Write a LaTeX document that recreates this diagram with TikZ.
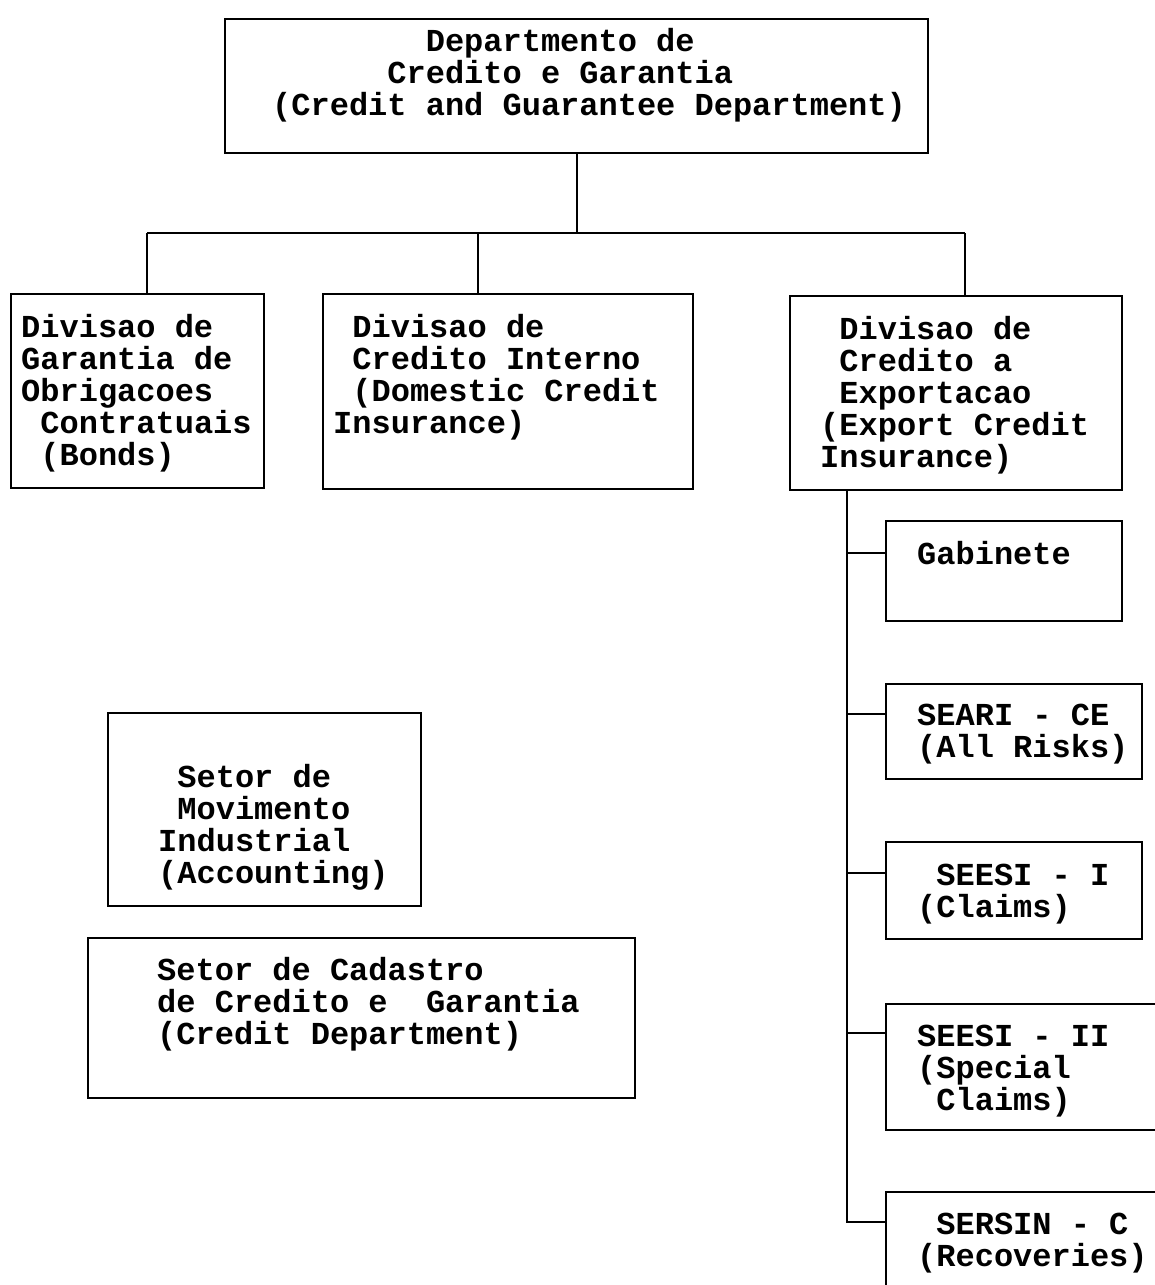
\documentclass[tikz,border=0pt]{standalone}
\usepackage{fontspec}
\setmainfont{Liberation Mono}
\usetikzlibrary{positioning}
\frenchspacing
% strut that fixes the top of the first text line
\newcommand{\boxstrut}{\rule{0pt}{26pt}}
\begin{document}
\begin{tikzpicture}[x=1pt, y=-1pt,
    orgbox/.style={draw, line width=2.2pt, inner sep=0pt, anchor=north west},
    orgtext/.style={align=left, inner sep=0pt, anchor=north west,
        font=\fontsize{32}{32}\selectfont\bfseries},
    link/.style={line width=2.2pt}]
\useasboundingbox (0,0) rectangle (1155,1285);

% Department box on top
\node[orgbox, minimum width=703pt, minimum height=134pt] (dep) at (224,18) {};
\node[orgtext, below right=7pt and 48pt of dep.north west] (dep-txt)
    {\boxstrut~~~~~~~~Departmento de\\~~~~~~Credito e Garantia\\(Credit and Guarantee Department)};

% The three divisions
\node[orgbox, minimum width=253pt, minimum height=194pt] (bonds) at (10,293) {};
\node[orgtext, below right=18pt and 11pt of bonds.north west] (bonds-txt)
    {\boxstrut Divisao de\\Garantia de\\Obrigacoes\\~Contratuais\\~(Bonds)};

\node[orgbox, minimum width=370pt, minimum height=195pt] (dom) at (322,293) {};
\node[orgtext, below right=18pt and 11pt of dom.north west] (dom-txt)
    {\boxstrut~Divisao de\\~Credito Interno\\~(Domestic Credit\\Insurance)};

\node[orgbox, minimum width=332pt, minimum height=194pt] (exp) at (789,295) {};
\node[orgtext, below right=18pt and 31pt of exp.north west] (exp-txt)
    {\boxstrut~Divisao de\\~Credito a\\~Exportacao\\(Export Credit\\Insurance)};

% Sections under the export division
\node[orgbox, minimum width=236pt, minimum height=100pt] (gab) at (885,520) {};
\node[orgtext, below right=18pt and 32pt of gab.north west] (gab-txt)
    {\boxstrut Gabinete};

\node[orgbox, minimum width=256pt, minimum height=95pt] (seari) at (885,683) {};
\node[orgtext, below right=16pt and 32pt of seari.north west] (seari-txt)
    {\boxstrut SEARI - CE\\(All Risks)};

\node[orgbox, minimum width=256pt, minimum height=97pt] (seesi1) at (885,841) {};
\node[orgtext, below right=18pt and 32pt of seesi1.north west] (seesi1-txt)
    {\boxstrut~SEESI - I\\(Claims)};

\node[orgbox, minimum width=300pt, minimum height=126pt] (seesi2) at (885,1003) {};
\node[orgtext, below right=17pt and 32pt of seesi2.north west] (seesi2-txt)
    {\boxstrut SEESI - II\\(Special\\~Claims)};

\node[orgbox, minimum width=300pt, minimum height=130pt] (sersin) at (885,1191) {};
\node[orgtext, below right=17pt and 32pt of sersin.north west] (sersin-txt)
    {\boxstrut~SERSIN - C\\(Recoveries)};

% Loose boxes on the left
\node[orgbox, minimum width=313pt, minimum height=193pt] (mov) at (107,712) {};
\node[orgtext, below right=49pt and 51pt of mov.north west] (mov-txt)
    {\boxstrut~Setor de\\~Movimento\\Industrial\\(Accounting)};

\node[orgbox, minimum width=547pt, minimum height=160pt] (cad) at (87,937) {};
\node[orgtext, below right=17pt and 70pt of cad.north west] (cad-txt)
    {\boxstrut Setor de Cadastro\\de Credito e~ Garantia\\(Credit Department)};

% Links from the department to the divisions
\coordinate (bus-l) at (147,233);
\coordinate (bus-m) at (478,233);
\coordinate (bus-r) at (965,233);
\draw[link] (dep.south) -- (dep.south |- bus-l);
\draw[link] (bus-l) -- (bus-r);
\draw[link] (bus-l) -- (bus-l |- bonds.north);
\draw[link] (bus-m) -- (bus-m |- dom.north);
\draw[link] (bus-r) -- (bus-r |- exp.north);

% Spine under the export division
\coordinate (spine) at (847,1222);
\draw[link] (spine |- exp.south) -- (spine) -- (spine -| sersin.west);
\foreach \n/\y in {gab/553, seari/714, seesi1/873, seesi2/1033} {
    \coordinate (br) at (847,\y);
    \draw[link] (br) -- (br -| \n.west);
}
\end{tikzpicture}
\end{document}
